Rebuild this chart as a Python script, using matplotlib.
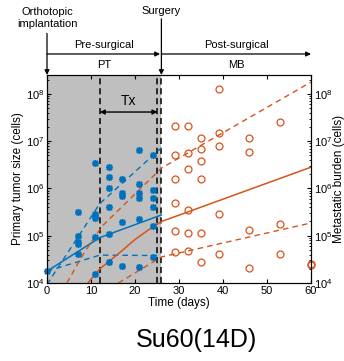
import numpy as np
import matplotlib
matplotlib.use('Agg')
import matplotlib.pyplot as plt

plt.rcParams['font.family'] = ['Liberation Sans', 'DejaVu Sans']
plt.rcParams['mathtext.fontset'] = 'custom'
plt.rcParams['mathtext.rm'] = 'Liberation Sans'
plt.rcParams['mathtext.it'] = 'Liberation Sans:italic'

BLUE = '#0072BD'
ORANGE = '#D95319'

# ---- primary tumor measurements (day, log10 cells) ----
pt_days = [0,
           7, 7, 7, 7, 7,
           11, 11, 11, 11, 11, 11,
           14, 14, 14, 14, 14, 14,
           17, 17, 17, 17, 17,
           21, 21, 21, 21, 21, 21,
           24, 24, 24, 24, 24, 24]
pt_log = [4.25,
          5.50, 5.00, 4.86, 4.82, 4.61,
          6.54, 5.46, 5.42, 5.37, 4.98, 4.20,
          6.45, 6.25, 6.02, 5.60, 5.03, 4.44,
          6.20, 5.90, 5.83, 5.30, 4.36,
          6.81, 6.09, 5.90, 5.79, 5.35, 4.34,
          6.71, 5.97, 5.80, 5.60, 5.20, 4.54]

# ---- metastatic burden measurements (day, log10 cells) ----
mb_days = [29, 29, 29, 29, 29, 29,
           32, 32, 32, 32, 32, 32,
           35, 35, 35, 35, 35, 35,
           39, 39, 39, 39, 39,
           46, 46, 46, 46,
           53, 53, 53,
           60, 60]
mb_log = [7.32, 6.71, 6.20, 5.69, 5.10, 4.65,
          7.32, 6.75, 6.41, 5.55, 5.06, 4.68,
          7.07, 6.83, 6.58, 6.20, 5.05, 4.45,
          8.10, 7.17, 6.90, 5.47, 4.61,
          7.07, 6.77, 5.12, 4.31,
          7.40, 5.24, 4.61,
          4.39, 4.40]

# ---- model fits (median and bounds) ----
pt_fit_days = [0, 12, 26]
pt_fit_log = [4.25, 4.96, 5.44]
pt_hi_days = [0, 12, 26]
pt_hi_log = [3.97, 5.68, 6.86]
pt_lo_days = [0, 12, 26]
pt_lo_log = [4.25, 4.59, 4.58]

mb_fit_days = [9.3, 12, 14, 17, 20, 23, 26, 60]
mb_fit_log = [4.0, 4.3, 4.45, 4.68, 4.92, 5.12, 5.3, 6.45]
mb_hi_days = [4.5, 8.5, 12.5, 18, 26, 60]
mb_hi_log = [4.0, 4.65, 5.2, 5.7, 6.43, 8.25]
mb_lo_days = [16.2, 26, 60]
mb_lo_log = [4.0, 4.55, 5.27]

tx_start, tx_end, surgery = 12, 25.1, 26

def cells(v):
    return 10 ** np.asarray(v)

fig = plt.figure(figsize=(3.44, 3.61), dpi=100)
ax = fig.add_axes([47/344, 1 - 283/361, (311 - 47)/344, (283 - 75)/361])
ax.set_yscale('log')
ax.set_xlim(0, 60)
ax.set_ylim(1e4, 10 ** 8.4)

ax.axvspan(0, surgery, color='#bfbfbf', lw=0, zorder=0)
for xv in [tx_start, tx_end, surgery - 0.1]:
    ax.axvline(xv, color='k', ls=(0, (4, 2.5)), lw=1.1, zorder=1)

dash = (0, (4, 3))
ax.plot(pt_fit_days, cells(pt_fit_log), color=BLUE, lw=1.1, zorder=3)
ax.plot(pt_hi_days, cells(pt_hi_log), color=BLUE, lw=1.0, ls=dash, zorder=3)
ax.plot(pt_lo_days, cells(pt_lo_log), color=BLUE, lw=1.0, ls=dash, zorder=3)
ax.plot(mb_fit_days, cells(mb_fit_log), color=ORANGE, lw=1.1, zorder=3)
ax.plot(mb_hi_days, cells(mb_hi_log), color=ORANGE, lw=1.0, ls=dash, zorder=3)
ax.plot(mb_lo_days, cells(mb_lo_log), color=ORANGE, lw=1.0, ls=dash, zorder=3)

ax.plot(pt_days, cells(pt_log), ls='none', marker=(8, 2, 0), ms=5, mew=1.1,
        color=BLUE, zorder=4, clip_on=False)
ax.plot(mb_days, cells(mb_log), ls='none', marker='o', ms=5, mew=0.9,
        mfc='none', mec=ORANGE, zorder=4, clip_on=False)

ax.set_xticks([0, 10, 20, 30, 40, 50, 60])
ax.set_yticks([1e4, 1e5, 1e6, 1e7, 1e8])
ax.tick_params(which='both', direction='in', top=True, right=False, labelsize=8, pad=2)
ax.tick_params(which='major', length=3)
ax.tick_params(which='minor', length=1.5)
ax.set_xlabel('Time (days)', fontsize=8.5, labelpad=1)
ax.set_ylabel('Primary tumor size (cells)', fontsize=8.5, labelpad=1)

ax2 = ax.twinx()
ax2.set_yscale('log')
ax2.set_ylim(ax.get_ylim())
ax2.set_yticks([1e4, 1e5, 1e6, 1e7, 1e8])
ax2.tick_params(which='both', direction='in', labelsize=8, pad=2)
ax2.tick_params(which='major', length=3)
ax2.tick_params(which='minor', length=1.5)
ax2.set_ylabel('Metastatic burden (cells)', fontsize=8.5)
ax2.yaxis.set_label_coords(1.107, 0.5)
ax2.yaxis.label.set_va('center')

# treatment window arrow
ax.annotate('', xy=(tx_end, 0.822), xytext=(tx_start, 0.822),
            xycoords=('data', 'axes fraction'),
            arrowprops=dict(arrowstyle='<|-|>', color='k', lw=1, mutation_scale=7,
                            shrinkA=0, shrinkB=0))
ax.text((tx_start + tx_end) / 2, 0.875, 'Tx', ha='center', va='center', fontsize=10,
        transform=ax.get_xaxis_transform())

# header annotations above the axes
tr = ax.get_xaxis_transform()
arrow = dict(arrowstyle='-|>', color='k', lw=0.9, mutation_scale=7, shrinkA=0, shrinkB=0)
ax.annotate('', xy=(0, 1.0), xytext=(0, 1.2), xycoords=tr, arrowprops=arrow,
            annotation_clip=False)
ax.annotate('', xy=(surgery, 1.0), xytext=(surgery, 1.27), xycoords=tr, arrowprops=arrow,
            annotation_clip=False)
ax.annotate('', xy=(surgery - 0.3, 1.101), xytext=(0, 1.101), xycoords=tr, arrowprops=arrow,
            annotation_clip=False)
ax.annotate('', xy=(60, 1.101), xytext=(surgery, 1.101), xycoords=tr, arrowprops=arrow,
            annotation_clip=False)
ax.text(0, 1.275, 'Orthotopic\nimplantation', transform=tr, ha='center', va='center',
        fontsize=8, linespacing=1.2)
ax.text(surgery, 1.31, 'Surgery', transform=tr, ha='center', va='center', fontsize=8)
ax.text(surgery / 2, 1.145, 'Pre-surgical', transform=tr, ha='center', va='center', fontsize=8)
ax.text(surgery / 2, 1.05, 'PT', transform=tr, ha='center', va='center', fontsize=8)
ax.text((surgery + 60) / 2, 1.145, 'Post-surgical', transform=tr, ha='center', va='center', fontsize=8)
ax.text((surgery + 60) / 2, 1.05, 'MB', transform=tr, ha='center', va='center', fontsize=8)

fig.text(196/344, 1 - 340/361, 'Su60(14D)', ha='center', va='center', fontsize=18)

fig.savefig('out.png', dpi=100)
